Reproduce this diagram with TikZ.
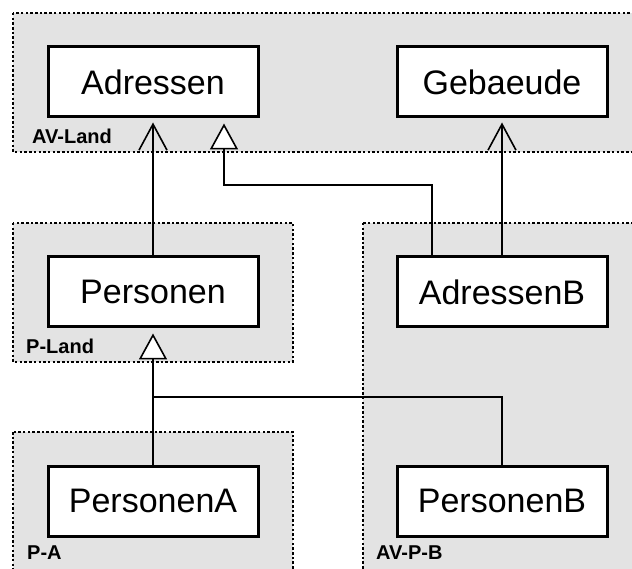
\documentclass[tikz,border=0pt]{standalone}
\usepackage{fontspec}
\setmainfont{Liberation Sans}
\usepackage{tikz}
\usetikzlibrary{arrows.meta, positioning}

\definecolor{zonegray}{RGB}{227,227,227}

\begin{document}
\begin{tikzpicture} [x = 1pt, y = -1pt, node distance = 210pt, on grid,
        cls/.style = {draw, fill = white, line width = 3pt, inner sep = 0pt,
            minimum width = 210pt, minimum height = 70pt,
            font = \fontsize{34}{40}\selectfont},
        zone/.style = {fill = zonegray, line width = 2.5pt, dash pattern = on 2.5pt off 2.2pt},
        zlabel/.style = {anchor = west, inner sep = 0pt, font = \fontsize{20}{24}\selectfont\bfseries},
        dep/.style = {line width = 2.5pt, shorten > = 4pt,
            -{Straight Barb[length = 26pt, width = 28pt, line width = 1.6pt]}},
        inh/.style = {line width = 2.5pt, shorten > = 5pt,
            -{Triangle[fill = white, length = 26pt, width = 28pt, line width = 1.6pt]}}]
        \clip (0,0) rectangle (632,569);

        % packages
        \draw [zone] (13,13) rectangle (650,152);
        \draw [zone] (13,223) rectangle (293,362);
        \draw [zone] (363,223) rectangle (650,600);
        \draw [zone] (13,432) rectangle (293,600);
        \node (avland) [zlabel] at (32,136) {AV-Land};
        \node (pland) [zlabel] at (26,346) {P-Land};
        \node (pa) [zlabel] at (27,553) {P-A};
        \node (avpb) [zlabel] at (376,553) {AV-P-B};

        % classes
        \node (adr) [cls] at (153,82) {Adressen};
        \node (geb) [cls, right = 349pt of adr] {Gebaeude};
        \node (pers) [cls, below = 210pt of adr] {Personen};
        \node (adrb) [cls, below = 210pt of geb] {AdressenB};
        \node (persa) [cls, below = 209pt of pers] {PersonenA};
        \node (persb) [cls, below = 209pt of adrb] {PersonenB};

        \coordinate (bend) at (224,185);
        \coordinate (join) at (153,397);

        \draw [dep] (pers.north) -- (adr.south);
        \draw [dep] (adrb.north) -- (geb.south);
        \draw [inh] ([xshift = -70pt]adrb.north) |- (bend) -- (bend |- adr.south);
        \draw [inh] (persa.north) -- (pers.south);
        \draw [line width = 2.5pt] (persb.north) |- (join);
\end{tikzpicture}
\end{document}
